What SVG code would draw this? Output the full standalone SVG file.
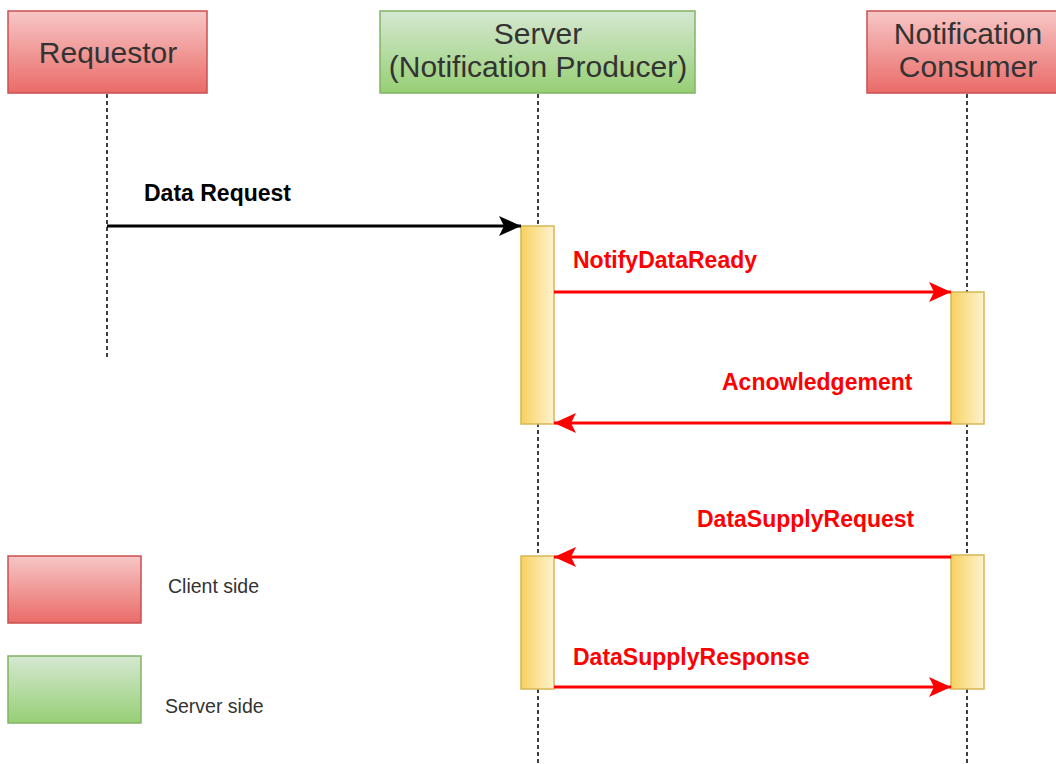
<svg xmlns="http://www.w3.org/2000/svg" width="1056" height="764" viewBox="0 0 1056 764">
<defs>
<linearGradient id="gRed" x1="0" y1="0" x2="0" y2="1"><stop offset="0" stop-color="#f6c7c6"/><stop offset="1" stop-color="#ea6b68"/></linearGradient>
<linearGradient id="gGreen" x1="0" y1="0" x2="0" y2="1"><stop offset="0" stop-color="#d5e8d2"/><stop offset="1" stop-color="#96cf74"/></linearGradient>
<linearGradient id="gYel" x1="0" y1="0" x2="1" y2="0"><stop offset="0" stop-color="#f7d160"/><stop offset="1" stop-color="#fff3cf"/></linearGradient>
<marker id="aBlack" markerUnits="userSpaceOnUse" markerWidth="24" markerHeight="22" refX="22" refY="10" orient="auto"><path d="M0,0 L22,10 L0,20 L5,10 Z" fill="#000"/></marker>
<marker id="aRed" markerUnits="userSpaceOnUse" markerWidth="24" markerHeight="22" refX="22" refY="10" orient="auto"><path d="M0,0 L22,10 L0,20 L5,10 Z" fill="#ff0000"/></marker>
</defs>
<style>
.title{font-family:"Liberation Sans",Arial,sans-serif;font-size:30px;fill:#333;text-anchor:middle}
.lbl{font-family:"Liberation Sans",Arial,sans-serif;font-size:23px;font-weight:bold}
.leg{font-family:"Liberation Sans",Arial,sans-serif;font-size:19.5px;fill:#333}
.life{stroke:#000;stroke-width:1.5;stroke-dasharray:4,3;fill:none}
.act{fill:url(#gYel);stroke:#d6b656;stroke-width:1.5}
.red{fill:url(#gRed);stroke:#c9504f;stroke-width:1.5}
.green{fill:url(#gGreen);stroke:#82b366;stroke-width:1.5}
.mb{stroke:#000;stroke-width:3;fill:none}
.mr{stroke:#ff0000;stroke-width:3.2;fill:none}
</style>
<rect width="1056" height="764" fill="#fff"/>
<g id="lifelines">
<line class="life" x1="107" y1="94" x2="107" y2="358"/>
<line class="life" x1="538" y1="94" x2="538" y2="764"/>
<line class="life" x1="967" y1="94" x2="967" y2="764"/>
</g>
<g id="requestor"><rect class="red" x="8" y="11" width="199" height="82"/><text class="title" x="108" y="63">Requestor</text></g>
<g id="server"><rect class="green" x="380" y="11" width="315" height="82"/><text class="title" x="538" y="44">Server</text><text class="title" x="538" y="77">(Notification Producer)</text></g>
<g id="consumer"><rect class="red" x="867" y="11" width="200" height="82"/><text class="title" x="968" y="44">Notification</text><text class="title" x="968" y="77">Consumer</text></g>
<g id="act-server-1"><rect class="act" x="521" y="226" width="33" height="198"/></g>
<g id="act-consumer-1"><rect class="act" x="951" y="292" width="33" height="132"/></g>
<g id="act-server-2"><rect class="act" x="521" y="556" width="33" height="133"/></g>
<g id="act-consumer-2"><rect class="act" x="951" y="555" width="33" height="134"/></g>
<g id="connectors">
<line class="mb" x1="107" y1="226" x2="521" y2="226" marker-end="url(#aBlack)"/>
<text class="lbl" x="144" y="201" fill="#000">Data Request</text>
<line class="mr" x1="554" y1="292" x2="951" y2="292" marker-end="url(#aRed)"/>
<text class="lbl" x="573" y="268" fill="#ff0000">NotifyDataReady</text>
<line class="mr" x1="951" y1="423" x2="554" y2="423" marker-end="url(#aRed)"/>
<text class="lbl" x="722" y="390" fill="#ff0000">Acnowledgement</text>
<line class="mr" x1="951" y1="557" x2="554" y2="557" marker-end="url(#aRed)"/>
<text class="lbl" x="697" y="527" fill="#ff0000">DataSupplyRequest</text>
<line class="mr" x1="554" y1="687" x2="951" y2="687" marker-end="url(#aRed)"/>
<text class="lbl" x="573" y="665" fill="#ff0000">DataSupplyResponse</text>
</g>
<g id="legend-client"><rect class="red" x="8" y="556" width="133" height="67"/><text class="leg" x="168" y="593">Client side</text></g>
<g id="legend-server"><rect class="green" x="8" y="656" width="133" height="67"/><text class="leg" x="165" y="713">Server side</text></g>
</svg>
